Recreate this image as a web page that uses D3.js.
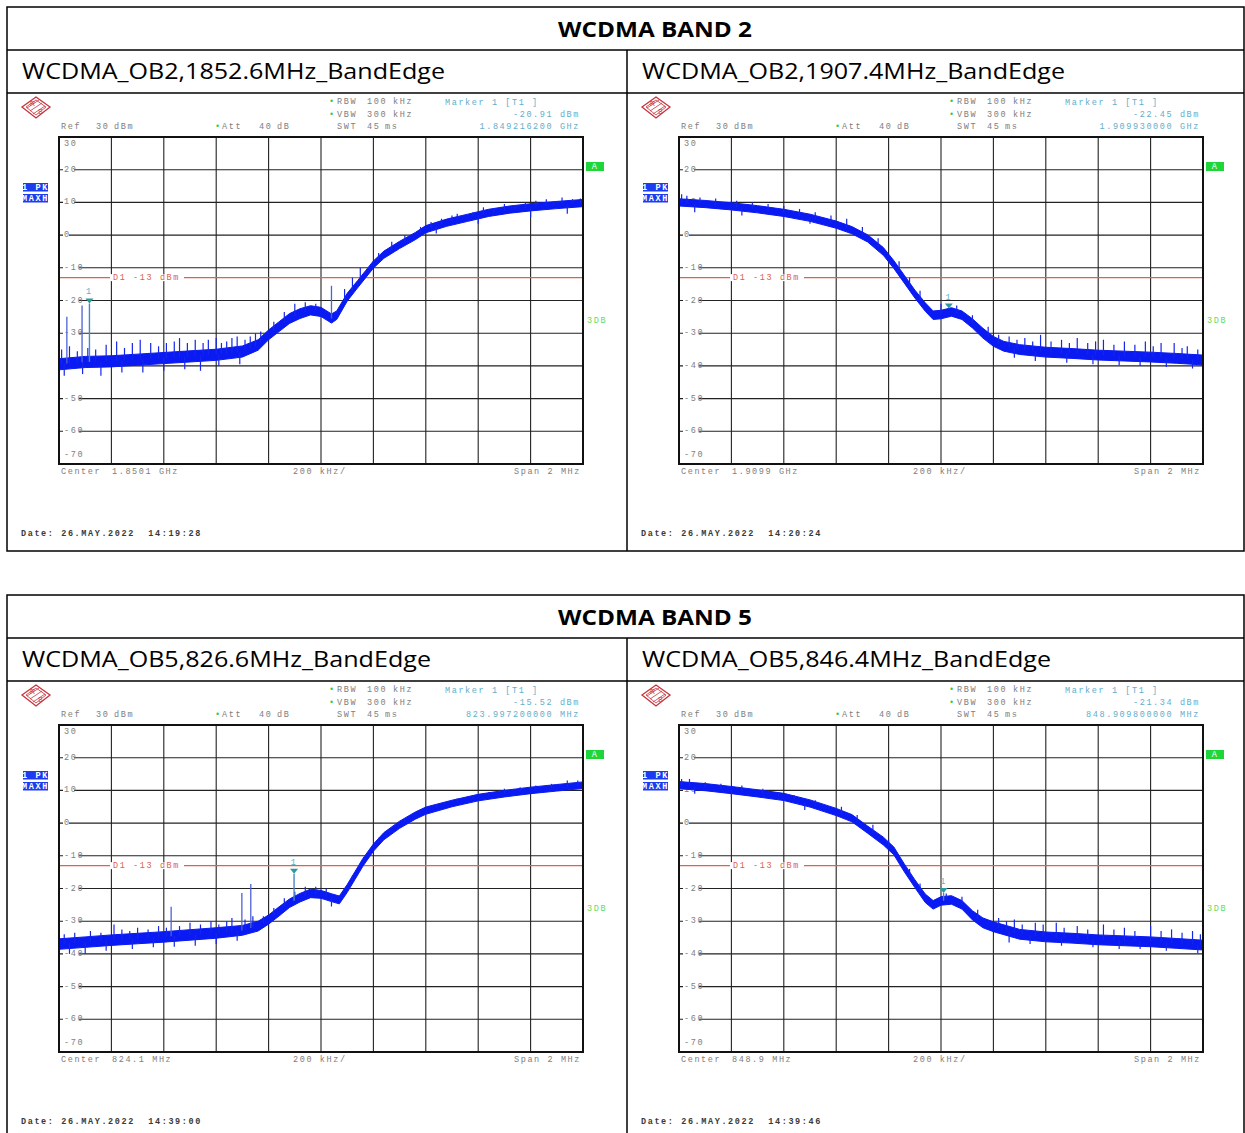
<!DOCTYPE html>
<html>
<head>
<meta charset="utf-8">
<script src="https://cdn.jsdelivr.net/npm/d3@7"></script>
<style>
body { margin: 0; background: #fff; }
svg { display: block; }
.mono { font-family: "Liberation Mono", "DejaVu Sans Mono", monospace; font-size: 8.5px; letter-spacing: 1.6px; white-space: pre; }
</style>
</head>
<body>
<div id="chart"></div>
<script>
// table texts
const bandTitles = ['WCDMA BAND 2', 'WCDMA BAND 5'];
const plotTitles = ['WCDMA_OB2,1852.6MHz_BandEdge', 'WCDMA_OB2,1907.4MHz_BandEdge',
                    'WCDMA_OB5,826.6MHz_BandEdge', 'WCDMA_OB5,846.4MHz_BandEdge'];
const titleWidths = [423, 423, 409, 409];

// analyzer settings per plot
const centerMHz = [1850.1, 1909.9, 824.1, 848.9];
const centerLabels = ['1.8501 GHz', '1.9099 GHz', '824.1 MHz', '848.9 MHz'];
const markerMHz = [1849.2162, 1909.93, 823.9972, 848.9098];
const markerDbm = [-20.91, -22.45, -15.52, -21.34];
const markerLevelLabels = ['-20.91 dBm', '-22.45 dBm', '-15.52 dBm', '-21.34 dBm'];
const markerFreqLabels = ['1.849216200 GHz', '1.909930000 GHz', '823.997200000 MHz', '848.909800000 MHz'];
const dateLabels = ['26.MAY.2022  14:19:28', '26.MAY.2022  14:20:24', '26.MAY.2022  14:39:00', '26.MAY.2022  14:39:46'];
const yTicks = [30, 20, 10, 0, -10, -20, -30, -40, -50, -60, -70];
const limitDbm = -13;

// traces: position in divisions (200 kHz each), level dBm, half-thickness dB
const b2LowDiv    = [0, 0.5, 1, 1.5, 2, 2.5, 3, 3.5, 3.8, 4.0, 4.2, 4.4, 4.6, 4.8, 5.0, 5.2, 5.3, 5.5, 5.7, 5.85, 6.0, 6.2, 6.5, 6.8, 7.0, 7.4, 7.8, 8.2, 8.6, 9.0, 9.5, 10];
const b2LowLevel  = [-39.5, -38.8, -38.6, -38.1, -37.6, -37.1, -36.6, -35.6, -33.6, -30.5, -28, -25.5, -24, -23, -23.5, -25.5, -24.5, -19, -15, -12, -9, -6, -3, -0.3, 1.8, 3.8, 5.3, 6.8, 7.8, 8.5, 9.2, 9.8];
const b2LowSpread = [1.7, 1.7, 1.7, 1.7, 1.7, 1.7, 1.7, 1.7, 1.6, 1.5, 1.5, 1.5, 1.5, 1.4, 1.4, 1.4, 1.3, 1.2, 1.1, 1.1, 1.1, 1.1, 1.1, 1.1, 1.1, 1.1, 1.1, 1.1, 1.1, 1.1, 1.1, 1.1];
// noise peaks around the trace: [div, dBm]
const b2LowGrass  = [[0.05, -35], [0.2, -34], [0.35, -35.5], [0.55, -34.5], [0.7, -35], [0.9, -33.5], [1.1, -32.5], [1.25, -34.5], [1.4, -33], [1.55, -32], [1.75, -33], [1.9, -34],
                     [2.05, -33], [2.2, -32.5], [2.3, -31.5], [2.45, -33], [2.6, -32], [2.75, -33], [2.85, -32], [3.0, -31.5], [3.1, -33], [3.2, -32.5], [3.3, -31.5], [3.4, -31],
                     [3.55, -32], [3.65, -31], [3.75, -30], [3.85, -29.5], [4.1, -26.5], [4.3, -23.5], [4.5, -21], [4.7, -20.5], [4.9, -21], [5.45, -16.5], [5.6, -13], [5.75, -10],
                     [6.1, -5.5], [6.35, -2], [6.6, 0], [6.9, 2.5], [7.1, 4], [7.3, 5], [7.5, 6], [7.6, 6.5], [7.9, 7], [8.1, 8.5], [8.3, 8.3], [8.5, 9.5], [8.7, 9.2], [8.9, 10],
                     [9.1, 10.5], [9.3, 11], [9.45, 10.3], [9.6, 11.5], [9.8, 11], [9.95, 11.2],
                     [0.1, -43], [0.45, -42.5], [0.8, -43], [1.2, -42], [1.6, -42], [2.0, -41.5], [2.4, -41], [2.7, -41.5], [3.05, -40], [3.45, -39.5], [7.2, 0.5], [8.0, 3.5], [9.0, 5.5], [9.7, 6.5]];
const b2LowSpikes = [[0.15, -25], [0.44, -21.5], [5.2, -15.5]];

const b2HighDiv    = [0, 0.5, 1, 1.5, 2, 2.5, 3, 3.3, 3.6, 3.9, 4.1, 4.3, 4.5, 4.7, 4.85, 5.0, 5.2, 5.4, 5.6, 5.8, 6.0, 6.2, 6.5, 7, 7.5, 8, 8.5, 9, 9.5, 10];
const b2HighLevel  = [10, 9.5, 8.8, 7.9, 6.8, 5.3, 3.2, 1.5, -1, -5, -9, -13.5, -18, -22, -24.5, -24.3, -23.5, -24.5, -27, -30, -32.5, -34, -35, -35.8, -36.2, -36.7, -37, -37.3, -37.7, -38.2];
const b2HighSpread = [1.1, 1.1, 1.1, 1.1, 1.1, 1.1, 1.1, 1.1, 1.1, 1.2, 1.2, 1.2, 1.2, 1.3, 1.3, 1.3, 1.3, 1.3, 1.4, 1.5, 1.5, 1.5, 1.5, 1.5, 1.5, 1.5, 1.5, 1.5, 1.5, 1.5];
const b2HighGrass  = [[0.05, 12.5], [0.15, 12], [0.4, 11.5], [0.7, 11.2], [1.1, 10.5], [1.4, 10], [1.7, 9.5], [2.0, 9], [2.3, 8], [2.6, 7], [2.9, 6], [3.2, 5], [3.5, 2.5], [3.8, -1],
                      [4.2, -8], [4.4, -13], [4.6, -17], [5.0, -21], [5.3, -21.5], [5.6, -24.5], [5.9, -28], [6.1, -30.5], [6.3, -31], [6.45, -32], [6.6, -31.5], [6.75, -32.5],
                      [6.9, -30.5], [7.1, -32.5], [7.3, -32], [7.45, -33], [7.6, -31.5], [7.8, -33], [7.95, -32.5], [8.1, -32], [8.3, -33.5], [8.5, -32.5], [8.7, -33.5], [8.9, -32.5],
                      [9.05, -34], [9.2, -33], [9.45, -33], [9.6, -34.5], [9.7, -34], [9.9, -35],
                      [0.3, 7], [1.2, 6], [2.5, 3.5], [6.4, -37.5], [6.8, -38.5], [7.4, -39], [7.9, -39.5], [8.4, -39.8], [8.8, -40], [9.3, -40.3], [9.8, -40.8]];
const b2HighSpikes = [];

const b5LowDiv    = [0, 0.5, 1, 1.5, 2, 2.5, 3, 3.5, 3.8, 4.0, 4.2, 4.4, 4.6, 4.8, 5.0, 5.2, 5.35, 5.5, 5.65, 5.8, 6.0, 6.2, 6.5, 6.8, 7.0, 7.5, 8, 8.5, 9, 9.5, 10];
const b5LowLevel  = [-37, -36.4, -35.8, -35.3, -34.8, -34.2, -33.6, -32.8, -31.5, -29.5, -27, -24.5, -22.8, -21.5, -21.8, -22.8, -23.5, -20, -16, -12, -7.5, -4, -0.5, 2.3, 3.8, 6, 7.8, 9, 10, 10.8, 11.6];
const b5LowSpread = [1.6, 1.6, 1.6, 1.6, 1.6, 1.6, 1.6, 1.5, 1.5, 1.4, 1.4, 1.3, 1.3, 1.3, 1.2, 1.2, 1.2, 1.2, 1.2, 1.2, 1.1, 1.1, 1.1, 1.1, 1.1, 1, 1, 1, 1, 1, 1];
const b5LowGrass  = [[0.1, -34], [0.3, -33.5], [0.6, -33], [0.8, -33.5], [1.05, -31], [1.2, -32.5], [1.35, -33], [1.5, -32], [1.7, -32.5], [1.9, -31.5], [2.05, -32], [2.3, -31.5],
                     [2.5, -30.5], [2.7, -31], [2.9, -30], [3.05, -31], [3.2, -30], [3.3, -29], [3.55, -29.5], [3.7, -28.5], [3.9, -28.5], [4.1, -26], [4.3, -23], [4.5, -21],
                     [4.7, -19.5], [4.9, -19.5], [5.1, -20], [5.6, -16], [6.1, -4.5], [6.3, -2], [6.6, 1], [6.9, 3.5], [7.2, 5.5], [7.6, 7.5], [7.9, 8.5], [8.2, 9.5], [8.5, 10.5],
                     [8.8, 11], [9.1, 11.5], [9.4, 12], [9.7, 13], [9.9, 13],
                     [0.2, -40], [0.5, -40], [0.9, -39], [1.4, -38.5], [1.8, -38], [2.2, -37.8], [2.6, -37.5], [3.0, -37], [3.4, -36], [5.2, -25.5]];
const b5LowSpikes = [[2.14, -25.6], [3.49, -21.4], [3.66, -18.6]];

const b5HighDiv    = [0, 0.5, 1, 1.5, 2, 2.5, 3, 3.3, 3.6, 3.9, 4.1, 4.3, 4.5, 4.7, 4.85, 5.0, 5.2, 5.4, 5.6, 5.8, 6, 6.5, 7, 7.5, 8, 8.5, 9, 9.5, 10];
const b5HighLevel  = [11.6, 11, 10.1, 9.1, 8, 6, 3.4, 1.5, -2, -5.5, -8.5, -13.7, -18.5, -23, -25, -23.8, -23.5, -25, -28.2, -30.5, -31.7, -34, -34.8, -35.2, -35.7, -36, -36.3, -36.8, -37.3];
const b5HighSpread = [1.1, 1.1, 1.1, 1.1, 1.1, 1.1, 1.1, 1.1, 1.1, 1.2, 1.2, 1.2, 1.2, 1.3, 1.3, 1.3, 1.3, 1.3, 1.4, 1.5, 1.5, 1.5, 1.5, 1.5, 1.5, 1.5, 1.5, 1.5, 1.5];
const b5HighGrass  = [[0.05, 13.5], [0.2, 13.5], [0.5, 12.5], [0.8, 12], [1.2, 11.5], [1.6, 10.5], [1.9, 9.5], [2.2, 8.5], [2.6, 7], [3.1, 5], [3.4, 2.5], [3.7, -0.5], [4.0, -5],
                      [4.4, -14], [4.6, -18.5], [5.1, -21.5], [5.4, -22.5], [5.7, -26.5], [6.1, -29], [6.25, -30], [6.4, -29.5], [6.55, -31], [6.8, -30.5], [6.95, -31], [7.2, -30.5],
                      [7.35, -32], [7.6, -31.5], [7.8, -32.5], [8.1, -31], [8.3, -32.5], [8.5, -32], [8.7, -33], [9.0, -31.5], [9.2, -33], [9.4, -32.5], [9.6, -33.5], [9.8, -33], [9.95, -34],
                      [0.3, 9], [1.0, 8], [2.4, 4], [6.3, -36.5], [6.7, -37], [7.3, -37.5], [7.9, -38], [8.4, -38.5], [8.8, -38.5], [9.3, -39], [9.9, -39.8]];
const b5HighSpikes = [];

const traceDiv = [b2LowDiv, b2HighDiv, b5LowDiv, b5HighDiv];
const traceLevel = [b2LowLevel, b2HighLevel, b5LowLevel, b5HighLevel];
const traceSpread = [b2LowSpread, b2HighSpread, b5LowSpread, b5HighSpread];
const traceGrass = [b2LowGrass, b2HighGrass, b5LowGrass, b5HighGrass];
const traceSpikes = [b2LowSpikes, b2HighSpikes, b5LowSpikes, b5HighSpikes];

const W = 1245, H = 1133;
const svg = d3.select('#chart').append('svg').attr('width', W).attr('height', H);

// tables
bandTitles.forEach((t, b) => {
    const oy = b * 588;
    const g = svg.append('g').attr('fill', 'none').attr('stroke', '#000').attr('stroke-width', 1.5);
    g.append('rect').attr('x', 7).attr('y', 7 + oy).attr('width', 1237).attr('height', b ? 560 : 544);
    g.append('line').attr('x1', 7).attr('x2', 1244).attr('y1', 50 + oy).attr('y2', 50 + oy);
    g.append('line').attr('x1', 7).attr('x2', 1244).attr('y1', 93 + oy).attr('y2', 93 + oy);
    g.append('line').attr('x1', 627).attr('x2', 627).attr('y1', 50 + oy).attr('y2', b ? 1140 : 551);
    svg.append('text').attr('x', 655).attr('y', 37 + oy).attr('text-anchor', 'middle')
        .attr('font-family', '"Open Sans", "Noto Sans", sans-serif').attr('font-weight', 700)
        .attr('font-size', 21).attr('textLength', 194).attr('lengthAdjust', 'spacingAndGlyphs').text(t);
});

function txt(g, x, y, s, fill, anchor) {
    return g.append('text').attr('class', 'mono').attr('x', x).attr('y', y)
        .attr('dominant-baseline', 'central').attr('fill', fill)
        .attr('text-anchor', anchor || 'start').text(s);
}

plotTitles.forEach((title, i) => {
    const ox = (i % 2) * 620, oy = Math.floor(i / 2) * 588;
    const g = svg.append('g');

    g.append('text').attr('x', 22 + ox).attr('y', 79 + oy)
        .attr('font-family', '"Open Sans", "Noto Sans", sans-serif').attr('font-size', 21)
        .attr('textLength', titleWidths[i]).attr('lengthAdjust', 'spacingAndGlyphs').text(title);

    const x = d3.scaleLinear().domain([centerMHz[i] - 1, centerMHz[i] + 1]).range([59 + ox, 583 + ox]);
    const y = d3.scaleLinear().domain([-70, 30]).range([464 + oy, 137 + oy]);
    const fx = d => centerMHz[i] - 1 + d * 0.2;

    // R&S logo
    const lx = 36 + ox, ly = 107 + oy;
    const logo = g.append('g').attr('stroke', '#c8323c').attr('fill', 'none');
    logo.append('path').attr('stroke-width', 1.3)
        .attr('d', `M${lx - 14},${ly} L${lx},${ly - 10} L${lx + 14},${ly} L${lx},${ly + 11} Z`);
    logo.append('path').attr('stroke-width', 0.8)
        .attr('d', `M${lx - 10},${ly} L${lx},${ly - 7} L${lx + 10},${ly} L${lx},${ly + 8} Z`);
    [-3, 0, 3].forEach(k => logo.append('line').attr('stroke-width', 0.8)
        .attr('x1', lx - 6 + k).attr('y1', ly + 4 + k).attr('x2', lx + 6 + k).attr('y2', ly - 4 + k));
    logo.append('text').attr('x', lx - 6).attr('y', ly - 1).attr('font-size', 7).attr('fill', '#c8323c')
        .attr('stroke', 'none').attr('font-family', 'Liberation Sans').text('R');
    logo.append('text').attr('x', lx + 2).attr('y', ly + 7).attr('font-size', 7).attr('fill', '#c8323c')
        .attr('stroke', 'none').attr('font-family', 'Liberation Sans').text('S');

    // header texts
    const gray = '#7e7e7e', teal = '#62aecb', green = '#3c3';
    txt(g, 61 + ox, 127 + oy, 'Ref', gray);
    txt(g, 96 + ox, 127 + oy, '30', gray);
    txt(g, 114 + ox, 127 + oy, 'dBm', gray);
    txt(g, 215 + ox, 127 + oy, '•', green).attr('letter-spacing', 0);
    txt(g, 222 + ox, 127 + oy, 'Att', gray);
    txt(g, 259 + ox, 127 + oy, '40', gray);
    txt(g, 277 + ox, 127 + oy, 'dB', gray);
    [['RBW', '100', 'kHz', 102], ['VBW', '300', 'kHz', 115], ['SWT', '45', 'ms', 127]].forEach((r, k) => {
        if (k < 2) txt(g, 329 + ox, r[3] + oy, '•', green).attr('letter-spacing', 0);
        txt(g, 337 + ox, r[3] + oy, r[0], gray);
        txt(g, 367 + ox, r[3] + oy, r[1], gray);
        txt(g, k < 2 ? 393 + ox : 385 + ox, r[3] + oy, r[2], gray);
    });
    txt(g, 445 + ox, 103 + oy, 'Marker 1 [T1 ]', teal);
    txt(g, 580 + ox, 115 + oy, markerLevelLabels[i], teal, 'end');
    txt(g, 580 + ox, 127 + oy, markerFreqLabels[i], teal, 'end');

    // side boxes
    [['1 PK', 183], ['MAXH', 194]].forEach(b => {
        g.append('rect').attr('x', 23 + ox).attr('y', b[1] + oy).attr('width', 25).attr('height', 8.5).attr('fill', '#1c3cf0');
        txt(g, 35.5 + ox, b[1] + 4.5 + oy, b[0], '#fff', 'middle').attr('font-size', 6).attr('letter-spacing', 0.3).attr('font-weight', 700);
    });
    g.append('rect').attr('x', 586 + ox).attr('y', 162 + oy).attr('width', 18).attr('height', 9).attr('fill', '#1fd63a');
    txt(g, 595 + ox, 166.5 + oy, 'A', '#fff', 'middle').attr('font-size', 6).attr('letter-spacing', 0);
    txt(g, 587 + ox, 321 + oy, '3DB', '#5fdc5f').attr('font-size', 6).attr('letter-spacing', 0.6);

    // grid
    const grid = g.append('g').attr('stroke', '#222').attr('stroke-width', 1.1);
    d3.range(1, 10).forEach(k => grid.append('line')
        .attr('x1', x(fx(k))).attr('x2', x(fx(k))).attr('y1', y(30)).attr('y2', y(-70)));
    yTicks.slice(1, -1).forEach(v => grid.append('line')
        .attr('x1', x(fx(0))).attr('x2', x(fx(10))).attr('y1', y(v)).attr('y2', y(v)));

    // y labels
    yTicks.forEach((v, k) => {
        const yy = k === 0 ? y(v) + 7 : (k === yTicks.length - 1 ? y(v) - 9 : y(v));
        const s = String(v);
        if (k > 0 && k < yTicks.length - 1) {
            g.append('rect').attr('x', 63 + ox).attr('y', yy - 3).attr('width', s.length * 5 + 1).attr('height', 6).attr('fill', '#fff');
        }
        txt(g, 64 + ox, yy, s, gray).attr('font-size', 8).attr('letter-spacing', 0.2);
    });

    // limit line
    g.append('line').attr('x1', x(fx(0))).attr('x2', x(fx(10))).attr('y1', y(limitDbm)).attr('y2', y(limitDbm))
        .attr('stroke', '#e0604c').attr('stroke-width', 1.1);
    g.append('rect').attr('x', 110 + ox).attr('y', y(limitDbm) - 3.5).attr('width', 74).attr('height', 7).attr('fill', '#fff');
    txt(g, 113 + ox, y(limitDbm), 'D1 -13 dBm', '#e0604c');

    // trace band with noise peaks
    const pts = traceDiv[i].map((d, k) => ({ f: fx(d), v: traceLevel[i][k], s: traceSpread[i][k] }));
    const band = d3.area().x(d => x(d.f)).y0(d => y(d.v - d.s)).y1(d => y(d.v + d.s));
    const levelAt = d => d3.scaleLinear().domain(traceDiv[i]).range(traceLevel[i])(d);
    g.append('path').datum(pts).attr('d', band)
        .attr('fill', '#0a1af2').attr('stroke', '#0a1af2').attr('stroke-width', 1).attr('stroke-linejoin', 'round');
    g.append('g').attr('stroke', '#1426ea').attr('stroke-width', 1.2)
        .selectAll('line').data(traceGrass[i]).join('line')
        .attr('x1', d => x(fx(d[0]))).attr('x2', d => x(fx(d[0])))
        .attr('y1', d => y(d[1])).attr('y2', d => y(levelAt(d[0])));
    g.append('g').attr('stroke', '#4d62d6').attr('stroke-width', 1.3)
        .selectAll('line').data(traceSpikes[i]).join('line')
        .attr('x1', d => x(fx(d[0]))).attr('x2', d => x(fx(d[0])))
        .attr('y1', d => y(d[1])).attr('y2', d => y(levelAt(d[0])));

    // marker
    const mx = x(markerMHz[i]), my = y(markerDbm[i]);
    const md = (markerMHz[i] - centerMHz[i] + 1) / 0.2;
    if (markerDbm[i] > levelAt(md) + 2) {
        g.append('line').attr('x1', mx).attr('x2', mx).attr('y1', my).attr('y2', y(levelAt(md)))
            .attr('stroke', '#4a86c6').attr('stroke-width', 1.4);
    }
    g.append('path').attr('d', `M${mx - 4},${my - 5} L${mx + 4},${my - 5} L${mx},${my} Z`).attr('fill', '#2a9a9e');
    txt(g, mx, my - 11, '1', teal, 'middle').attr('letter-spacing', 0).attr('font-size', 7);

    // frame
    g.append('rect').attr('x', x(fx(0))).attr('y', y(30)).attr('width', x(fx(10)) - x(fx(0))).attr('height', y(-70) - y(30))
        .attr('fill', 'none').attr('stroke', '#111').attr('stroke-width', 2);

    // bottom texts
    txt(g, 61 + ox, 472 + oy, 'Center', gray);
    txt(g, 112 + ox, 472 + oy, centerLabels[i], gray);
    txt(g, 293 + ox, 472 + oy, '200 kHz/', gray);
    txt(g, 581 + ox, 472 + oy, 'Span 2 MHz', gray, 'end');
    txt(g, 21 + ox, 534 + oy, 'Date: ' + dateLabels[i], '#3a3a3a').attr('font-weight', 700);
});
</script>
</body>
</html>
